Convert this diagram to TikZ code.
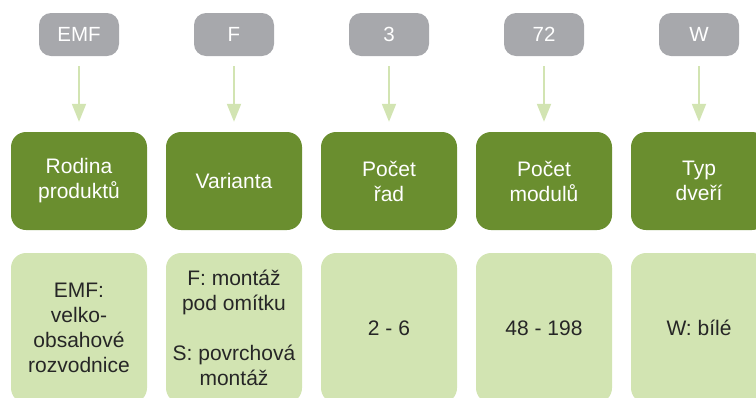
\documentclass[tikz,border=0pt]{standalone}
\usepackage{fontspec}
\setmainfont{Liberation Sans}
\usepackage{tikz}
\usetikzlibrary{arrows.meta}
\definecolor{CodeGray}{RGB}{167,168,172}
\definecolor{HeadGreen}{RGB}{106,142,47}
\definecolor{PaleGreen}{RGB}{210,228,178}
\definecolor{ValueText}{RGB}{38,38,38}

\begin{document}
\begin{tikzpicture}[x=1pt,y=-1pt,
    codebox/.style={fill=CodeGray,text=white,rounded corners=12pt,minimum width=80pt,minimum height=43pt,inner sep=0pt,font=\fontsize{20.5}{25}\selectfont},
    headbox/.style={fill=HeadGreen,text=white,rounded corners=15pt,minimum width=136pt,minimum height=98pt,inner sep=0pt,align=center,font=\fontsize{21}{25}\selectfont},
    valuebox/.style={fill=PaleGreen,text=ValueText,rounded corners=15pt,minimum width=136pt,minimum height=150pt,inner sep=0pt,align=center,font=\fontsize{21}{25}\selectfont},
    codearrow/.style={PaleGreen,line width=2pt,-{Triangle[width=14pt,length=18pt]},shorten <=10pt,shorten >=10pt}]
            \useasboundingbox (0,0) rectangle (756,397);
            \clip (0,0) rectangle (756,397);
            % codes
            \node[codebox] (Kemf) at (79,34.5) {EMF};
            \node[codebox] (Kf) at (234,34.5) {F};
            \node[codebox] (Kthree) at (389,34.5) {3};
            \node[codebox] (Kseventytwo) at (544,34.5) {72};
            \node[codebox] (Kw) at (699,34.5) {W};
            % headings
            \node[headbox] (Hfamily) at (79,181) {Rodina\\produktů};
            \node[headbox] (Hvariant) at (234,181) {Varianta};
            \node[headbox] (Hrows) at (389,181) {Počet\\řad};
            \node[headbox] (Hmodules) at (544,181) {Počet\\modulů};
            \node[headbox] (Hdoor) at (699,181) {Typ\\dveří};
            % values
            \node[valuebox] (Vfamily) at (79,328) {EMF:\\velko-\\obsahové\\rozvodnice};
            \node[valuebox] (Vvariant) at (234,328) {F: montáž\\pod omítku\\[25pt]S: povrchová\\montáž};
            \node[valuebox] (Vrows) at (389,328) {2 - 6};
            \node[valuebox] (Vmodules) at (544,328) {48 - 198};
            \node[valuebox] (Vdoor) at (699,328) {W: bílé};
            % arrows
            \draw[codearrow] (Kemf) -- (Hfamily);
            \draw[codearrow] (Kf) -- (Hvariant);
            \draw[codearrow] (Kthree) -- (Hrows);
            \draw[codearrow] (Kseventytwo) -- (Hmodules);
            \draw[codearrow] (Kw) -- (Hdoor);
        \end{tikzpicture}
\end{document}
